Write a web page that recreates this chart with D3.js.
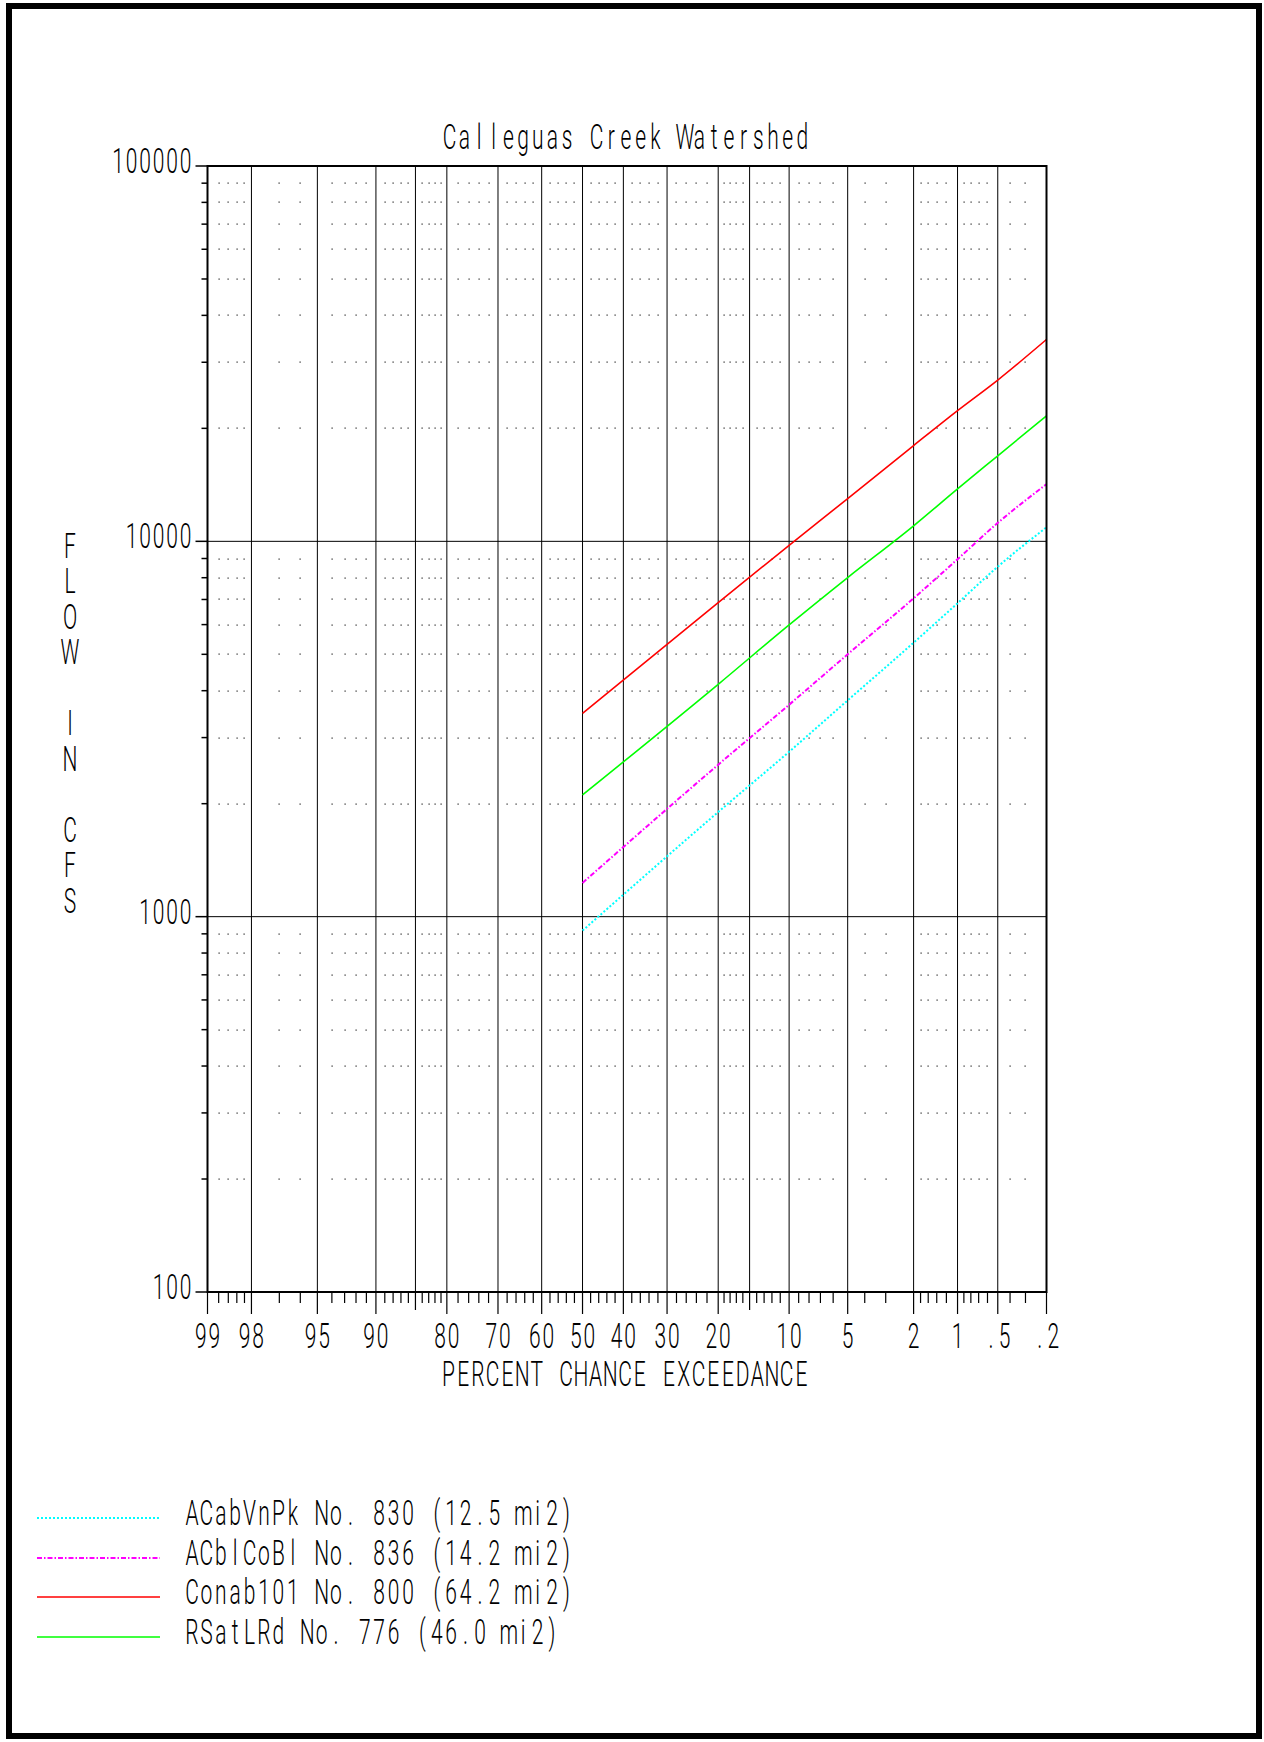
<!DOCTYPE html>
<html>
<head>
<meta charset="utf-8">
<script src="https://cdn.jsdelivr.net/npm/d3@7"></script>
<style>
  html, body { margin: 0; padding: 0; background: #fff; }
  svg { display: block; }
  text { font-family: Roboto, "DejaVu Sans", sans-serif; font-weight: 300; white-space: pre; fill: #000; }
</style>
</head>
<body>
<svg id="chart" width="1264" height="1742"></svg>
<script>
// exceedance probabilities (%) where the frequency curves were read
var probs = [50, 20, 10, 5, 2, 1, 0.5, 0.2];
var acabVnPk = [918, 1900, 2750, 3770, 5370, 6840, 8560, 10900];
var acblCoBl = [1230, 2540, 3670, 5000, 7050, 8960, 11200, 14200];
var conab101 = [3480, 6870, 9760, 13000, 18000, 22300, 26900, 34500];
var rsatLRd = [2110, 4160, 5990, 8010, 11000, 13800, 16900, 21600];

var seriesNames = ["ACabVnPk No. 830 (12.5 mi2)", "ACblCoBl No. 836 (14.2 mi2)",
                   "Conab101 No. 800 (64.2 mi2)", "RSatLRd No. 776 (46.0 mi2)"];
var seriesColors = ["#00ffff", "#ff00ff", "#ff0000", "#00ff00"];
var seriesDash = ["2,2", "5,2,1.5,2", null, null];

// x axis (percent chance exceedance)
var xMajor = [99, 98, 95, 90, 80, 70, 60, 50, 40, 30, 20, 10, 5, 2, 1, 0.5, 0.2];
var xLabels = ["99", "98", "95", "90", "80", "70", "60", "50", "40", "30", "20", "10", "5", "2", "1", ".5", ".2"];
var xMid = [85, 15];
var xMinor = [98.8, 98.6, 98.4, 98.2, 97, 96, 94, 93, 92, 91, 89, 88, 87, 86, 84, 83, 82, 81,
              78, 76, 74, 72, 68, 66, 64, 62, 58, 56, 54, 52, 48, 46, 44, 42, 38, 36, 34, 32,
              28, 26, 24, 22, 19, 18, 17, 16, 14, 13, 12, 11, 9, 8, 7, 6, 4, 3,
              1.8, 1.6, 1.4, 1.2, 0.9, 0.8, 0.7, 0.6, 0.4, 0.3];

// y axis (flow in cfs)
var yMajor = [100, 1000, 10000, 100000];
var yLabels = ["100", "1000", "10000", "100000"];
var yMinorMult = [2, 3, 4, 5, 6, 7, 8, 9];
var yDecades = [100, 1000, 10000];

var title = "Calleguas Creek Watershed";
var xTitle = "PERCENT CHANCE EXCEEDANCE";
var yTitle = "FLOW IN CFS";

// inverse of the standard normal cdf (Acklam)
function probit(p) {
  var a = [-39.69683028665376, 220.9460984245205, -275.9285104469687, 138.3577518672690, -30.66479806614716, 2.506628277459239];
  var b = [-54.47609879822406, 161.5858368580409, -155.6989798598866, 66.80131188771972, -13.28068155288572];
  var c = [-0.007784894002430293, -0.3223964580411365, -2.400758277161838, -2.549732539343734, 4.374664141464968, 2.938163982698783];
  var d = [0.007784695709041462, 0.3224671290700398, 2.445134137142996, 3.754408661907416];
  var q, r;
  if (p < 0.02425) {
    q = Math.sqrt(-2 * Math.log(p));
    return (((((c[0]*q+c[1])*q+c[2])*q+c[3])*q+c[4])*q+c[5]) / ((((d[0]*q+d[1])*q+d[2])*q+d[3])*q+1);
  }
  if (p > 1 - 0.02425) {
    q = Math.sqrt(-2 * Math.log(1 - p));
    return -(((((c[0]*q+c[1])*q+c[2])*q+c[3])*q+c[4])*q+c[5]) / ((((d[0]*q+d[1])*q+d[2])*q+d[3])*q+1);
  }
  q = p - 0.5;
  r = q * q;
  return (((((a[0]*r+a[1])*r+a[2])*r+a[3])*r+a[4])*r+a[5])*q / (((((b[0]*r+b[1])*r+b[2])*r+b[3])*r+b[4])*r+1);
}
function zOf(pct) { return probit(1 - pct / 100); }

var svg = d3.select("#chart");
var plotL = 207.5, plotR = 1046.5, plotT = 166, plotB = 1292;

var x = d3.scaleLinear().domain([zOf(99), zOf(0.2)]).range([plotL, plotR]);
var y = d3.scaleLog().domain([100, 100000]).range([plotB, plotT]);
function px(pct) { return x(zOf(pct)); }

// plotter style text: every char sits in its own fixed-width cell
var SX = 0.6;
function cellText(parent, str, cx, cy, cell, anchor) {
  var n = str.length, start;
  if (anchor === "middle") start = cx - (n - 1) * cell / 2;
  else if (anchor === "end") start = cx - (n - 1) * cell;
  else start = cx;
  var xs = d3.range(n).map(function(i) { return ((start + i * cell) / SX).toFixed(2); }).join(" ");
  return parent.append("text")
    .attr("transform", "scale(" + SX + ",1)")
    .attr("x", xs)
    .attr("y", cy)
    .attr("text-anchor", "middle")
    .attr("font-size", 35)
    .text(str);
}

// outer page border
svg.append("rect")
  .attr("x", 9).attr("y", 6).attr("width", 1250).attr("height", 1730)
  .attr("fill", "none").attr("stroke", "#000").attr("stroke-width", 6);

var g = svg.append("g");

// vertical grid lines
g.append("g").selectAll("line")
  .data(xMajor.concat(xMid).filter(function(p) { return p !== 99 && p !== 0.2; }))
  .enter().append("line")
  .attr("x1", px).attr("x2", px)
  .attr("y1", plotT).attr("y2", plotB)
  .attr("stroke", "#000").attr("stroke-width", 1);

// horizontal decade lines
g.append("g").selectAll("line")
  .data([1000, 10000])
  .enter().append("line")
  .attr("x1", plotL).attr("x2", plotR)
  .attr("y1", y).attr("y2", y)
  .attr("stroke", "#000").attr("stroke-width", 1);

// dotted minor grid: a dot at every minor x tick on every minor flow value
var minorFlows = [];
yDecades.forEach(function(dec) { yMinorMult.forEach(function(m) { minorFlows.push(m * dec); }); });
var dots = [];
minorFlows.forEach(function(v) { xMinor.forEach(function(p) { dots.push([p, v]); }); });
g.append("g").selectAll("rect")
  .data(dots)
  .enter().append("rect")
  .attr("x", function(d) { return Math.round(px(d[0])) - 0.5; })
  .attr("y", function(d) { return Math.round(y(d[1])) - 0.5; })
  .attr("width", 1.2).attr("height", 1.2)
  .attr("fill", "#222");

// frequency curves
var allSeries = [acabVnPk, acblCoBl, conab101, rsatLRd];
var line = d3.line()
  .x(function(d) { return px(d.p); })
  .y(function(d) { return y(d.v); })
  .curve(d3.curveMonotoneX);

allSeries.forEach(function(vals, i) {
  var pts = probs.map(function(p, j) { return {p: p, v: vals[j]}; });
  var path = g.append("path")
    .datum(pts)
    .attr("d", line)
    .attr("fill", "none")
    .attr("stroke", seriesColors[i])
    .attr("stroke-width", i < 2 ? 2 : 1.6);
  if (seriesDash[i]) path.attr("stroke-dasharray", seriesDash[i]);
});

// plot frame
g.append("rect")
  .attr("x", plotL).attr("y", plotT)
  .attr("width", plotR - plotL).attr("height", plotB - plotT)
  .attr("fill", "none").attr("stroke", "#000").attr("stroke-width", 2);

// y ticks
g.append("g").selectAll("line")
  .data(minorFlows)
  .enter().append("line")
  .attr("x1", plotL - 6).attr("x2", plotL)
  .attr("y1", y).attr("y2", y)
  .attr("stroke", "#000").attr("stroke-width", 1.5);
g.append("g").selectAll("line")
  .data(yMajor)
  .enter().append("line")
  .attr("x1", plotL - 12).attr("x2", plotL)
  .attr("y1", y).attr("y2", y)
  .attr("stroke", "#000").attr("stroke-width", 1.5);

// x ticks
function xTicks(data, len) {
  g.append("g").selectAll("line")
    .data(data)
    .enter().append("line")
    .attr("x1", px).attr("x2", px)
    .attr("y1", plotB).attr("y2", plotB + len)
    .attr("stroke", "#000").attr("stroke-width", 1.2);
}
xTicks(xMinor, 11);
xTicks(xMid, 18);
xTicks(xMajor, 22);

// tick labels
yMajor.forEach(function(v, i) { cellText(svg, yLabels[i], 185.5, y(v) + 7, 13.5, "end"); });
xMajor.forEach(function(p, i) { cellText(svg, xLabels[i], px(p), 1348, 13.5, "middle"); });

// titles
cellText(svg, title, 626, 149, 14.7, "middle");
cellText(svg, xTitle, 625, 1386, 14.7, "middle");

// vertical y title, one char per row
var yChars = yTitle.split("");
svg.append("text")
  .attr("transform", "scale(" + SX + ",1)")
  .attr("x", yChars.map(function() { return (70 / SX).toFixed(2); }).join(" "))
  .attr("y", yChars.map(function(ch, i) { return 558 + i * 35.5; }).join(" "))
  .attr("text-anchor", "middle")
  .attr("font-size", 35)
  .text(yTitle);

// legend
var legY = [1518, 1558, 1597, 1637];
seriesNames.forEach(function(name, i) {
  var l = svg.append("line")
    .attr("x1", 37).attr("x2", 160)
    .attr("y1", legY[i]).attr("y2", legY[i])
    .attr("stroke", seriesColors[i])
    .attr("stroke-width", i < 2 ? 2 : 1.6);
  if (seriesDash[i]) l.attr("stroke-dasharray", seriesDash[i]);
  cellText(svg, name, 192, legY[i] + 7.5, 14.4, "start");
});
</script>
</body>
</html>
